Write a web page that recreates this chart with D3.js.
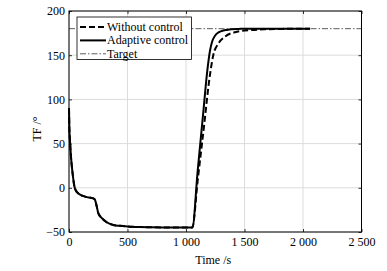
<!DOCTYPE html>
<html>
<head>
<meta charset="utf-8">
<script src="https://cdn.jsdelivr.net/npm/d3@7"></script>
<style>
  body { margin: 0; background: #fff; }
</style>
</head>
<body>
<div id="chart"></div>
<script>

// data
const adaptiveTime = [0, 3, 8, 17, 31, 51, 80, 137, 208, 222, 237, 250, 279, 322, 379, 436, 500, 600, 700, 800, 900, 1000, 1054, 1100, 1150, 1180, 1205, 1225, 1248, 1275, 1305, 1350, 1390, 1450, 1504, 1600, 1800, 2060];
const adaptiveValue = [90, 68, 54, 35, 16, -1, -6.5, -10, -12, -13.6, -21, -28.7, -34, -39, -42, -43, -43.7, -44.3, -44.6, -44.8, -44.9, -45, -45, 19.5, 88.6, 130, 155, 166, 172, 175.5, 177.4, 178.6, 179.3, 179.7, 180, 180, 180, 180];

const withoutTime = [0, 3, 8, 17, 31, 51, 80, 137, 208, 222, 237, 250, 279, 322, 379, 436, 500, 600, 700, 800, 900, 1000, 1054, 1100, 1150, 1205, 1233, 1276, 1333, 1419, 1561, 1675, 1800, 1950, 2060];
const withoutValue = [90, 68, 54, 35, 16, -1, -6.5, -10, -12, -13.6, -21, -28.7, -34, -39, -42, -43, -43.7, -44.3, -44.6, -44.8, -44.9, -45, -45, 8.5, 65, 128, 150, 163, 171, 176, 178.5, 179.3, 179.7, 180, 180];

const targetTime = [0, 2500];
const targetValue = [180, 180];

const xTicks = [0, 500, 1000, 1500, 2000, 2500];
const yTicks = [-50, 0, 50, 100, 150, 200];

const legendLabels = ["Without control", "Adaptive control", "Target"];

const serif = "'Liberation Serif', 'Times New Roman', Times, 'DejaVu Serif', serif";

//sizing
const width = 387;
const height = 271;
const margin = {top: 11, right: 25.5, bottom: 39, left: 69};
const innerW = width - margin.left - margin.right;
const innerH = height - margin.top - margin.bottom;

const svg = d3.select("#chart")
	.append("svg")
	.attr("width", width)
	.attr("height", height);

const g = svg.append("g")
	.attr("transform", "translate(" + margin.left + "," + margin.top + ")");

const x = d3.scaleLinear().domain([0, 2500]).range([0, innerW]);
const y = d3.scaleLinear().domain([-50, 200]).range([innerH, 0]);

const loc = d3.formatLocale({decimal: ".", thousands: " ", grouping: [3], currency: ["", ""], minus: "\u2212"});
const fmt = loc.format(",d");

//grid
g.append("g").selectAll("line").data(xTicks).join("line")
	.attr("x1", d => x(d)).attr("x2", d => x(d))
	.attr("y1", 0).attr("y2", innerH)
	.attr("stroke", "#dcdcdc").attr("stroke-width", 1);

g.append("g").selectAll("line").data(yTicks).join("line")
	.attr("x1", 0).attr("x2", innerW)
	.attr("y1", d => y(d)).attr("y2", d => y(d))
	.attr("stroke", "#dcdcdc").attr("stroke-width", 1);

//axes, ticks inside
const xAxis = g.append("g")
	.attr("transform", "translate(0," + innerH + ")")
	.call(d3.axisBottom(x).tickValues(xTicks).tickFormat(fmt).tickSizeInner(-3).tickSizeOuter(0).tickPadding(5));
const xTop = g.append("g")
	.call(d3.axisTop(x).tickValues(xTicks).tickFormat("").tickSizeInner(-3).tickSizeOuter(0));
const yAxis = g.append("g")
	.call(d3.axisLeft(y).tickValues(yTicks).tickFormat(fmt).tickSizeInner(-3).tickSizeOuter(0).tickPadding(4));
const yRight = g.append("g")
	.attr("transform", "translate(" + innerW + ",0)")
	.call(d3.axisRight(y).tickValues(yTicks).tickFormat("").tickSizeInner(-3).tickSizeOuter(0));

[xAxis, xTop, yAxis, yRight].forEach(a => {
	a.attr("font-family", null);
	a.selectAll(".domain").remove();
	a.selectAll("line").attr("stroke", "#000").attr("stroke-width", 0.8);
	a.selectAll("text").attr("fill", "#000").attr("font-size", 12);
});

//lines
const line = d3.line().x(d => x(d[0])).y(d => y(d[1]));
const smooth = d3.line().curve(d3.curveMonotoneX).x(d => x(d[0])).y(d => y(d[1]));

g.append("path")
	.datum(d3.zip(targetTime, targetValue))
	.attr("d", line)
	.attr("fill", "none")
	.attr("stroke", "#333")
	.attr("stroke-width", 0.8)
	.attr("stroke-dasharray", "6,2,1.5,2");

g.append("path")
	.datum(d3.zip(withoutTime, withoutValue))
	.attr("d", smooth)
	.attr("fill", "none")
	.attr("stroke", "#000")
	.attr("stroke-width", 2)
	.attr("stroke-dasharray", "6,3");

g.append("path")
	.datum(d3.zip(adaptiveTime, adaptiveValue))
	.attr("d", smooth)
	.attr("fill", "none")
	.attr("stroke", "#000")
	.attr("stroke-width", 2);

//frame
g.append("rect")
	.attr("width", innerW).attr("height", innerH)
	.attr("fill", "none").attr("stroke", "#000").attr("stroke-width", 1);

//legend
const legend = g.append("g").attr("transform", "translate(8,6)");
legend.append("rect")
	.attr("width", 114.5).attr("height", 42.5)
	.attr("fill", "#fff").attr("stroke", "#000").attr("stroke-width", 0.8);

const styles = [
	{w: 2, dash: "6,3", color: "#000"},
	{w: 2, dash: null, color: "#000"},
	{w: 0.8, dash: "6,2,1.5,2", color: "#333"}
];

legendLabels.forEach((lab, i) => {
	const cy = 10 + i * 13.4;
	legend.append("line")
		.attr("x1", 3).attr("x2", 29)
		.attr("y1", cy).attr("y2", cy)
		.attr("stroke", styles[i].color)
		.attr("stroke-width", styles[i].w)
		.attr("stroke-dasharray", styles[i].dash);
	legend.append("text")
		.attr("x", 30).attr("y", cy + 4)
		.attr("font-size", 12)
		.text(lab);
});

//axis labels
svg.append("text")
	.attr("x", margin.left + innerW / 2 - 2)
	.attr("y", 264)
	.attr("text-anchor", "middle")
	.attr("font-size", 12)
	.text("Time /s");

svg.append("text")
	.attr("transform", "translate(41,129) rotate(-90)")
	.attr("text-anchor", "middle")
	.attr("font-size", 12)
	.text("TF /\u00b0");

svg.selectAll("text").style("font-family", serif);

</script>
</body>
</html>
